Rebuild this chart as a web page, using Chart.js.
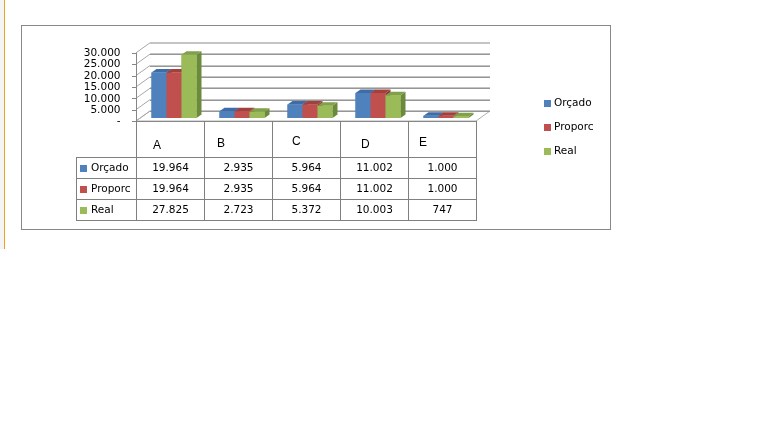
<!DOCTYPE html>
<html><head><meta charset="utf-8">
<script src="https://cdn.jsdelivr.net/npm/chart.js@4"></script>
<style>
html,body{margin:0;padding:0;background:#fff;}
#wrap{position:relative;width:762px;height:442px;overflow:hidden;}
#strip{position:absolute;left:0;top:0;width:4px;height:249px;background:#f4f4f4;}
#orange{position:absolute;left:4px;top:0;width:1px;height:249px;background:#f0a020;}
#frame{position:absolute;left:21px;top:25px;width:588px;height:203px;border:1px solid #888;}
canvas{position:absolute;left:0;top:0;}
</style></head><body>
<div id="wrap"><div id="strip"></div><div id="orange"></div><div id="frame"></div><canvas id="c" width="762" height="442"></canvas></div>
<script>
// ---- data ----
const categories = ['A', 'B', 'C', 'D', 'E'];
const seriesNames = ['Orçado', 'Proporc', 'Real'];
const orcado  = [19964, 2935, 5964, 11002, 1000];
const proporc = [19964, 2935, 5964, 11002, 1000];
const real    = [27825, 2723, 5372, 10003, 747];
const yTickValues = [0, 5000, 10000, 15000, 20000, 25000, 30000];

// ---- styles ----
const frontColors = ['#4F81BD', '#C0504D', '#9BBB59'];
const topColors   = ['#3F6CA6', '#A1403D', '#80A04A'];
const sideColors  = ['#375E8E', '#8D3936', '#6C8A3C'];
const FONT = 'DejaVu Sans';

function fmt(v) {
  return v === 0 ? '-' : String(v).replace(/\B(?=(\d{3})+(?!\d))/g, '.');
}

// depth offsets relative to the bar plane
const D = { fx: -4, fy: 3, bx: 10, by: -7, dx: 5, dy: 3.5 };

function poly(ctx, pts, fill) {
  ctx.beginPath();
  ctx.moveTo(pts[0][0], pts[0][1]);
  for (let i = 1; i < pts.length; i++) ctx.lineTo(pts[i][0], pts[i][1]);
  ctx.closePath();
  ctx.fillStyle = fill;
  ctx.fill();
}

const excel3d = {
  id: 'excel3d',
  beforeDatasetsDraw(chart) {
    const { ctx, chartArea: a, scales: { x, y } } = chart;
    const L = a.left, R = a.right;
    const y0 = y.getPixelForValue(0);
    ctx.save();
    // floor
    ctx.beginPath();
    ctx.moveTo(L + D.fx, y0 + D.fy);
    ctx.lineTo(L + D.bx, y0 + D.by);
    ctx.lineTo(R + D.bx, y0 + D.by);
    ctx.lineTo(R + D.fx, y0 + D.fy);
    ctx.closePath();
    ctx.fillStyle = '#ffffff';
    ctx.fill();
    ctx.strokeStyle = '#b0b0b0';
    ctx.lineWidth = 1;
    ctx.stroke();
    // back wall gridlines + side wall diagonals + ticks
    yTickValues.forEach((v, i) => {
      const py = y.getPixelForValue(v);
      const gy = Math.round(py + D.by);
      ctx.lineWidth = 1;
      ctx.strokeStyle = '#c4c4c4';
      ctx.beginPath(); ctx.moveTo(L + D.bx, gy - 0.5); ctx.lineTo(R + D.bx, gy - 0.5); ctx.stroke();
      ctx.strokeStyle = i === yTickValues.length - 1 ? '#c4c4c4' : '#969696';
      ctx.beginPath(); ctx.moveTo(L + D.bx, gy + 0.5); ctx.lineTo(R + D.bx, gy + 0.5); ctx.stroke();
      ctx.strokeStyle = '#a8a8a8';
      ctx.beginPath(); ctx.moveTo(L + D.fx, py + D.fy); ctx.lineTo(L + D.bx, py + D.by); ctx.stroke();
      const ty = Math.round(py + D.fy) + 0.5;
      ctx.strokeStyle = '#868686';
      ctx.beginPath(); ctx.moveTo(L + D.fx - 4, ty); ctx.lineTo(L + D.fx, ty); ctx.stroke();
    });
    // front vertical axis
    const ax = Math.round(L + D.fx) + 0.5;
    ctx.strokeStyle = '#868686';
    ctx.beginPath();
    ctx.moveTo(ax, y.getPixelForValue(yTickValues[yTickValues.length - 1]) + D.fy);
    ctx.lineTo(ax, y0 + D.fy);
    ctx.stroke();
    // floor front edge
    const fy = Math.round(y0 + D.fy) + 0.5;
    ctx.beginPath(); ctx.moveTo(L + D.fx, fy); ctx.lineTo(R + D.fx, fy); ctx.stroke();
    ctx.restore();
  },
  afterDatasetsDraw(chart) {
    const { ctx } = chart;
    const metas = chart.data.datasets.map((d, i) => chart.getDatasetMeta(i));
    ctx.save();
    for (let c = 0; c < categories.length; c++) {
      metas.forEach((m, s) => {
        const el = m.data[c];
        const p = el.getProps(['x', 'y', 'base', 'width'], true);
        const l = p.x - p.width / 2, r = p.x + p.width / 2;
        const top = p.y, base = p.base;
        poly(ctx, [[r, top], [r + D.dx, top - D.dy], [r + D.dx, base - D.dy], [r, base]], sideColors[s]);
        poly(ctx, [[l, top], [l + D.dx, top - D.dy], [r + D.dx, top - D.dy], [r, top]], topColors[s]);
        ctx.fillStyle = frontColors[s];
        ctx.fillRect(l, top, p.width, base - top);
      });
    }
    ctx.restore();
  },
  afterDraw(chart) {
    const { ctx, chartArea: a, scales: { x, y } } = chart;
    const series = chart.data.datasets;
    const half = (x.getPixelForValue(1) - x.getPixelForValue(0)) / 2;
    const cols = categories.map((c, i) => Math.round(x.getPixelForValue(i) - half + D.fx));
    cols.push(Math.round(x.getPixelForValue(categories.length - 1) + half + D.fx));
    const headTop = Math.round(y.getPixelForValue(0) + D.fy);
    const headBot = headTop + 36, rowH = 21, keyL = 76;
    const tabBot = headBot + rowH * series.length;
    ctx.save();
    ctx.strokeStyle = '#808080';
    ctx.lineWidth = 1;
    // verticals
    cols.forEach(cx => {
      ctx.beginPath(); ctx.moveTo(cx + 0.5, headTop); ctx.lineTo(cx + 0.5, tabBot); ctx.stroke();
    });
    ctx.beginPath(); ctx.moveTo(keyL + 0.5, headBot); ctx.lineTo(keyL + 0.5, tabBot); ctx.stroke();
    // horizontals
    for (let r = 0; r <= series.length; r++) {
      const ry = headBot + r * rowH + 0.5;
      ctx.beginPath(); ctx.moveTo(keyL, ry); ctx.lineTo(cols[cols.length - 1] + 1, ry); ctx.stroke();
    }
    // category header letters (irregular placement as in the original)
    const nudgeX = [17, 13, 20, 21, 11];
    const nudgeY = [24.5, 23, 21, 23.5, 22];
    ctx.fillStyle = '#000';
    ctx.font = '12px "Liberation Sans"';
    ctx.textBaseline = 'middle';
    ctx.textAlign = 'left';
    categories.forEach((c, i) => ctx.fillText(c, cols[i] + nudgeX[i], headTop + nudgeY[i]));
    // rows
    ctx.font = '10.5px "' + FONT + '"';
    series.forEach((ds, r) => {
      const cy = headBot + r * rowH + rowH / 2 + 0.5;
      ctx.fillStyle = frontColors[r];
      ctx.fillRect(keyL + 4, Math.round(cy - 3.5), 7, 7);
      ctx.fillStyle = '#000';
      ctx.textAlign = 'left';
      ctx.fillText(ds.label, keyL + 15, cy);
      ctx.textAlign = 'center';
      ds.data.forEach((v, i) => ctx.fillText(fmt(v), (cols[i] + cols[i + 1]) / 2 + 0.5, cy));
    });
    // legend
    ctx.textAlign = 'left';
    series.forEach((ds, r) => {
      const ly = 103 + r * 24;
      ctx.fillStyle = frontColors[r];
      ctx.fillRect(544, Math.round(ly - 3.5), 7, 7);
      ctx.fillStyle = '#000';
      ctx.fillText(ds.label, 554, ly);
    });
    ctx.restore();
  }
};

new Chart(document.getElementById('c'), {
  type: 'bar',
  data: {
    labels: categories,
    datasets: [
      { label: seriesNames[0], data: orcado,  backgroundColor: frontColors[0] },
      { label: seriesNames[1], data: proporc, backgroundColor: frontColors[1] },
      { label: seriesNames[2], data: real,    backgroundColor: frontColors[2] }
    ]
  },
  options: {
    responsive: false,
    animation: false,
    devicePixelRatio: 1,
    categoryPercentage: 0.662,
    barPercentage: 1,
    layout: { padding: { left: 40, right: 282, top: 49.8, bottom: 324 } },
    plugins: { legend: { display: false }, tooltip: { enabled: false } },
    scales: {
      x: { display: false, grid: { display: false } },
      y: {
        min: 0, max: 30000,
        afterBuildTicks(s) { s.ticks = yTickValues.map(v => ({ value: v })); },
        afterFit(s) { s.width = 100; },
        ticks: {
          autoSkip: false,
          callback: v => fmt(v),
          color: '#000',
          font: { family: FONT, size: 10.5 },
          padding: 19.5,
          labelOffset: 3.5
        },
        grid: { display: false, drawTicks: false },
        border: { display: false }
      }
    }
  },
  plugins: [excel3d]
});
</script>
</body></html>
